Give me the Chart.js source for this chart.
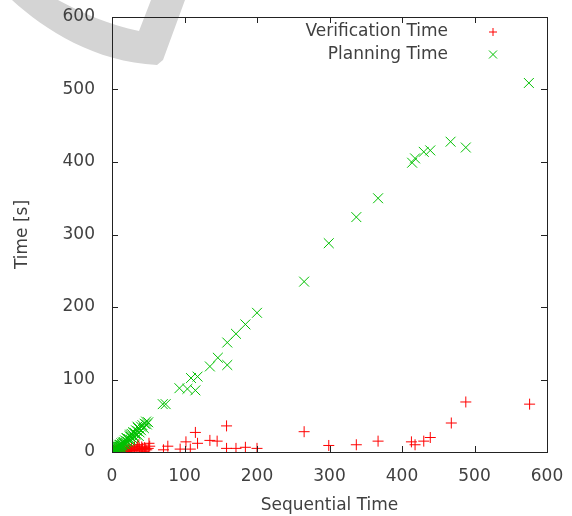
<!DOCTYPE html>
<html>
<head>
<meta charset="utf-8">
<script src="https://cdn.jsdelivr.net/npm/chart.js@4/dist/chart.umd.min.js"></script>
<style>
  html, body { margin: 0; padding: 0; background: #fff; }
  #wrap { width: 572px; height: 516px; }
</style>
</head>
<body>
<div id="wrap"><canvas id="chart" width="572" height="516"></canvas></div>
<script>
// values
const xTicks = [0, 100, 200, 300, 400, 500, 600]
const yTicks = [0, 100, 200, 300, 400, 500, 600]

const verifX = [0.5, 1, 2, 3, 4, 5, 6, 7, 8, 9, 10, 11, 12, 13, 14, 15, 16, 17, 18, 20, 21, 22, 24, 25, 26, 28, 30, 32, 34, 36, 38, 40, 42, 44, 46, 50, 52,
    3, 6, 9, 12, 15, 19, 23, 27, 31, 35, 37, 41, 45, 48, 51,
    71, 77, 94, 102, 108, 115, 118, 135, 145, 158, 158, 171, 184, 200, 265, 299, 337, 367, 413, 418, 430, 439, 468, 488, 576]
const verifY = [0.2, 0.5, 0.3, 1, 0.5, 1, 0.5, 1.5, 0.8, 1, 2, 1, 1.5, 0.5, 2, 1, 2.5, 1.5, 2, 1, 3, 2, 2.5, 1.5, 3, 2, 3.5, 2.5, 4, 3, 4.5, 3, 5, 1, 4, 5, 8,
    2.5, 3, 3.5, 3, 4, 4.5, 5, 6, 7, 8, 10, 7, 6, 3, 12,
    3, 8, 4, 14, 4, 27, 12, 16, 15, 36, 5, 5, 6.5, 5, 28, 9, 10, 15, 14, 10, 15, 20, 40, 69, 66]

const planX = [0.5, 1, 1.5, 2, 2.5, 3, 3.5, 4, 5, 5, 6, 7, 8, 8, 9, 10, 11, 12, 13, 14, 15, 16, 17, 18, 20, 21, 23, 24, 26, 27, 29, 30, 32, 33, 35, 36, 38, 40, 42, 45, 50,
    2, 3, 4, 5, 6, 7, 9, 10, 11, 12, 13, 15, 16, 18, 19, 20, 22, 24, 25, 26, 28, 29, 31, 33, 35, 37, 38, 40, 44, 47, 48,
    70, 74, 93, 104, 115, 109, 118, 135, 146, 159, 159, 171, 184, 200, 265, 299, 337, 367, 414, 418, 430, 439, 467, 488, 575]
const planY = [0.5, 1, 0.5, 2, 1.5, 3, 2, 4, 3, 5, 4, 6, 5, 7, 8, 7, 10, 9, 12, 10, 13, 14, 12, 16, 15, 19, 18, 22, 21, 25, 23, 27, 26, 30, 29, 33, 32, 35, 37, 39, 41,
    3, 1.5, 2.5, 6, 3, 4, 5, 10, 7, 7, 9, 9, 11, 11, 13, 19, 14, 16, 24, 17, 19, 27, 20, 24, 35, 22, 27, 30, 33, 42, 38,
    66, 66, 88, 87, 85, 102, 104, 118, 130, 120, 151, 163, 176, 192, 235, 288, 324, 350, 399, 405, 414, 416, 428, 420, 509]

const seriesNames = ['Verification Time', 'Planning Time']
const seriesColors = ['#ff0000', '#00c000']
const seriesStyles = ['cross', 'crossRot']

const textColor = '#404040'
const fontFamily = "'DejaVu Sans', 'Liberation Sans', sans-serif"

function toPoints(xs, ys) {
    return xs.map((x, i) => ({ x: x, y: ys[i] }))
}

// the grey watermark behind the plot
const watermark = {
    id: 'watermark',
    beforeDraw(chart) {
        const ctx = chart.ctx
        ctx.save()
        ctx.fillStyle = '#d4d4d4'
        ctx.beginPath()
        ctx.moveTo(12, 0)
        ctx.bezierCurveTo(45, 30, 95, 62, 157, 65)
        ctx.lineTo(163, 60)
        ctx.lineTo(185, 0)
        ctx.lineTo(151, 0)
        ctx.lineTo(139, 31)
        ctx.bezierCurveTo(110, 25, 82, 13, 58, 0)
        ctx.closePath()
        ctx.fill()
        ctx.restore()
    }
}

// gnuplot style frame, inward ticks on all four sides, legend top right
const frame = {
    id: 'frame',
    afterDraw(chart) {
        const ctx = chart.ctx
        const a = chart.chartArea
        const xs = chart.scales.x
        const ys = chart.scales.y
        const len = 6
        ctx.save()
        ctx.strokeStyle = '#222'
        ctx.lineWidth = 1
        ctx.beginPath()
        xs.ticks.forEach(t => {
            const px = Math.round(xs.getPixelForValue(t.value)) + 0.5
            ctx.moveTo(px, a.bottom); ctx.lineTo(px, a.bottom - len)
            ctx.moveTo(px, a.top); ctx.lineTo(px, a.top + len)
        })
        ys.ticks.forEach(t => {
            const py = Math.round(ys.getPixelForValue(t.value)) + 0.5
            ctx.moveTo(a.left, py); ctx.lineTo(a.left + len, py)
            ctx.moveTo(a.right, py); ctx.lineTo(a.right - len, py)
        })
        ctx.stroke()
        ctx.strokeRect(Math.round(a.left) + 0.5, Math.round(a.top) + 0.5,
            Math.round(a.right - a.left), Math.round(a.bottom - a.top))

        // legend
        ctx.font = '17px ' + fontFamily
        ctx.fillStyle = textColor
        ctx.textAlign = 'right'
        ctx.textBaseline = 'middle'
        chart.data.datasets.forEach((ds, i) => {
            const ly = 32 + i * 22.5
            ctx.fillText(ds.label, 448, ly)
            ctx.strokeStyle = ds.borderColor
            ctx.beginPath()
            const r = 4
            if (ds.pointStyle === 'cross') {
                ctx.moveTo(493 - r, ly); ctx.lineTo(493 + r, ly)
                ctx.moveTo(493, ly - r); ctx.lineTo(493, ly + r)
            } else {
                ctx.moveTo(493 - r, ly - r); ctx.lineTo(493 + r, ly + r)
                ctx.moveTo(493 - r, ly + r); ctx.lineTo(493 + r, ly - r)
            }
            ctx.stroke()
        })
        ctx.restore()
    }
}

const datasets = [
    { label: seriesNames[0], data: toPoints(verifX, verifY) },
    { label: seriesNames[1], data: toPoints(planX, planY) }
].map((ds, i) => Object.assign(ds, {
    borderColor: seriesColors[i],
    backgroundColor: seriesColors[i],
    pointStyle: seriesStyles[i],
    pointRadius: i === 0 ? 5.5 : 7,
    pointBorderWidth: 1,
    showLine: false,
    order: 1 - i
}))

new Chart(document.getElementById('chart'), {
    type: 'scatter',
    data: { datasets: datasets },
    options: {
        responsive: false,
        animation: false,
        events: [],
        layout: { padding: { top: 17, right: 25, left: 0, bottom: 0 } },
        plugins: {
            legend: { display: false },
            tooltip: { enabled: false }
        },
        scales: {
            x: {
                type: 'linear',
                min: 0,
                max: 600,
                afterBuildTicks: s => { s.ticks = xTicks.map(v => ({ value: v })) },
                afterFit: s => {
                    s.height = 64
                    s.paddingLeft = 0
                    s.paddingRight = 0
                },
                grid: { display: false, drawTicks: false },
                border: { display: false },
                ticks: { padding: 14, color: textColor, font: { family: fontFamily, size: 17 } },
                title: {
                    display: true,
                    text: 'Sequential Time',
                    color: textColor,
                    padding: { top: -2, bottom: 0 },
                    font: { family: fontFamily, size: 17 }
                }
            },
            y: {
                type: 'linear',
                min: 0,
                max: 600,
                afterBuildTicks: s => { s.ticks = yTicks.map(v => ({ value: v })) },
                afterFit: s => {
                    s.width = 112
                    s.paddingTop = 0
                    s.paddingBottom = 0
                },
                grid: { display: false, drawTicks: false },
                border: { display: false },
                ticks: { padding: 17, color: textColor, font: { family: fontFamily, size: 17 } },
                title: {
                    display: true,
                    text: 'Time [s]',
                    color: textColor,
                    padding: { top: 12, bottom: 0 },
                    font: { family: fontFamily, size: 17 }
                }
            }
        }
    },
    plugins: [watermark, frame]
})
</script>
</body>
</html>
